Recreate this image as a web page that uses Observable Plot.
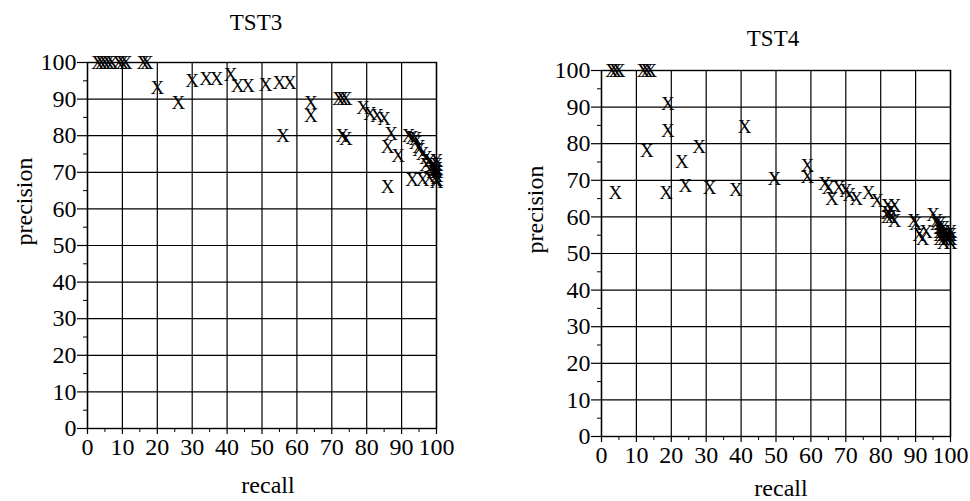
<!DOCTYPE html>
<html><head><meta charset="utf-8">
<script src="https://cdn.jsdelivr.net/npm/d3@7"></script>
<script src="https://cdn.jsdelivr.net/npm/@observablehq/plot@0.6"></script>
<style>
body{margin:0;background:#fff;width:970px;height:501px;overflow:hidden}
#wrap{position:relative;width:970px;height:501px}
#a,#b{position:absolute;top:0}
#a{left:0}
#b{left:485px}
</style></head><body><div id="wrap"><div id="a"></div><div id="b"></div></div>
<script>
const tst3Recall = [3,4,5,6,7,9,10,11,16,17, 20,26,30,34,37,41,43,46,51,55, 58,56,64,64,72,73,74,73,74,79, 81,83,85,87,86,89,86,93,96,98, 92,93,94,94,95,95,96,97,98,97, 99,99,100,100,100,100,100,99,100,100];
const tst3Precision = [100,100,100,100,100,100,100,100,100,100, 93,89,95,95.5,95.5,96.5,93.5,93.5,94,94.5, 94.5,80,89,85.5,90,90,90,80,79,87.5, 86,85.5,84.5,80.5,77,74.5,66,68,68,68.5, 80,79.5,79,78,77,76,75,74,73,72, 72,71,71,70,69,68,67.5,70,72,73];
const tst4Recall = [3,4,5,12,13,14, 19,19,41,13,28,23,4,18.5,24,31, 38.5,49.5,59,59,64,65,66,68,70,71, 73,76.5,79,82,83,84,82,83,84,82, 89.5,90,91,92,93,95,96,97,97,97, 97,98,98,98,98,99,99,100,100,100, 100,98,96,97];
const tst4Precision = [100,100,100,100,100,100, 91,83.5,84.5,78,79,75,66.5,66.5,68.5,68, 67.5,70.5,74,71,69,68,65,68,67,66, 65,66.5,64.5,63,62,63,61,60,59,60, 59,58,55,54,56,60.5,58,57,56,55, 54,56,55,54,53,55,54,55,54,56, 53,57,59,58];
const majorTicks = [0,10,20,30,40,50,60,70,80,90,100];
const minorTicks = [5,15,25,35,45,55,65,75,85,95];
const titles = ["TST3", "TST4"];
const xLabel = "recall";
const yLabel = "precision";

function panel(recall, precision, title, g) {
  const pts = recall.map((r, i) => ({r, p: precision[i]}));
  const font = "Liberation Serif, Times New Roman, serif";
  return Plot.plot({
    width: 485, height: 501,
    marginLeft: g.ml, marginRight: g.mr, marginTop: g.mt, marginBottom: g.mb,
    x: {domain: [0, 100]},
    y: {domain: [0, 100]},
    style: {fontFamily: font, fontSize: "24px", color: "black", background: "white"},
    marks: [
      Plot.gridX(majorTicks, {stroke: "black", strokeOpacity: 1, strokeWidth: 1.2}),
      Plot.gridY(majorTicks, {stroke: "black", strokeOpacity: 1, strokeWidth: 1.2}),
      Plot.frame({stroke: "black", strokeWidth: 1.4}),
      Plot.axisY(majorTicks, {tickSize: 10, tickPadding: 1, label: null, fontSize: 24, fontFamily: font, strokeWidth: 1.2}),
      Plot.axisY(minorTicks, {tickSize: 4, tickFormat: () => "", label: null}),
      Plot.axisX(majorTicks, {tickSize: 6, tickPadding: 3, label: null, fontSize: 24, fontFamily: font, strokeWidth: 1.2}),
      Plot.axisX(minorTicks, {tickSize: 4, tickFormat: () => "", label: null}),
      Plot.text(pts, {x: "r", y: "p", text: () => "X", fontSize: 19, fontFamily: font, lineAnchor: "middle", fill: "black"}),
      Plot.text([title], {frameAnchor: "top", lineAnchor: "bottom", dy: g.tdy, dx: g.tdx, fontSize: 23, fontFamily: font}),
      Plot.text([xLabel], {frameAnchor: "bottom", lineAnchor: "bottom", dy: g.xdy, dx: g.xdx, fontSize: 24, fontFamily: font}),
      Plot.text([yLabel], {frameAnchor: "left", rotate: -90, lineAnchor: "middle", dx: g.ydx, fontSize: 24, fontFamily: font})
    ]
  });
}

document.getElementById("a").append(panel(tst3Recall, tst3Precision, titles[0],
  {ml: 87, mr: 49, mt: 62, mb: 73, tdy: -33, tdx: -6, xdy: 64, xdx: 6, ydx: -63}));
document.getElementById("b").append(panel(tst4Recall, tst4Precision, titles[1],
  {ml: 116, mr: 20, mt: 70, mb: 65, tdy: -25, tdx: -3, xdy: 59, xdx: 5, ydx: -66}));
</script></body></html>
